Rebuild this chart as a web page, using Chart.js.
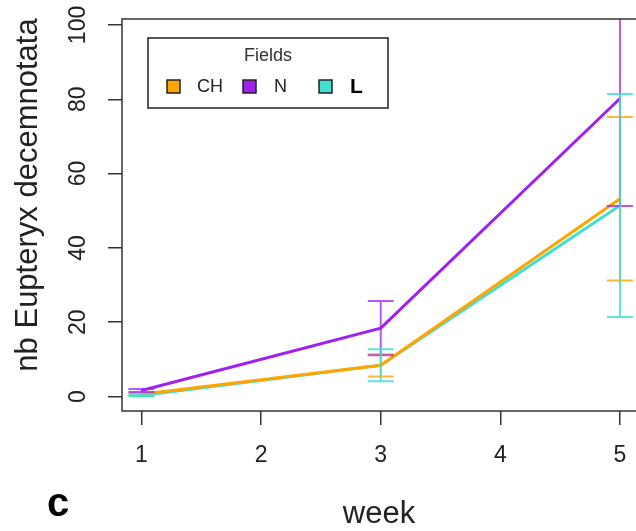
<!DOCTYPE html>
<html>
  <head>
    <meta charset="utf-8">
    <title>Eupteryx per week</title>
    <script src="https://cdn.jsdelivr.net/npm/chart.js@4.4.0/dist/chart.umd.min.js"></script>
    <style>
      html, body { margin: 0; padding: 0; background: #fff; overflow: hidden; }
      canvas { display: block; }
    </style>
  </head>
  <body>
    <canvas id="chart" width="636" height="531"></canvas>
    <script type="text/javascript">
      // values
      var weeks = [1, 3, 5];
      var fields = ["CH", "N", "L"];
      var chMean = [0.6, 8.4, 53.2];
      var chErr  = [0.3, 3.0, 22.0];
      var nMean  = [1.6, 18.4, 80.2];
      var nErr   = [0.4, 7.3, 28.9];
      var lMean  = [0.3, 8.4, 51.4];
      var lErr   = [0.3, 4.3, 30.0];
      var xTicks = [1, 2, 3, 4, 5];
      var yTicks = [0, 20, 40, 60, 80, 100];

      var lineCol = ['#FFA500', '#A020F0', '#40E0D0'];
      var barCol  = ['rgba(255,165,0,0.8)', 'rgba(160,32,240,0.75)', 'rgba(64,224,208,0.85)'];
      var means = [chMean, nMean, lMean];
      var errs  = [chErr, nErr, lErr];
      var FONT = "'Liberation Sans', Arial, sans-serif";

      function pts(arr) {
        return weeks.map(function (w, i) { return {x: w, y: arr[i]}; });
      }

      var extras = {
        id: 'extras',
        afterDatasetsDraw: function (chart) {
          var c = chart.ctx, xs = chart.scales.x, ys = chart.scales.y;
          // error bars, drawn in series order
          c.save();
          c.lineWidth = 2;
          for (var s = 0; s < 3; s++) {
            c.strokeStyle = barCol[s];
            for (var i = 0; i < weeks.length; i++) {
              var px = xs.getPixelForValue(weeks[i]);
              var top = ys.getPixelForValue(means[s][i] + errs[s][i]);
              var bot = ys.getPixelForValue(means[s][i] - errs[s][i]);
              c.beginPath();
              c.moveTo(px, Math.max(top, chart.chartArea.top)); c.lineTo(px, bot);
              if (top > chart.chartArea.top) { c.moveTo(px - 13, top); c.lineTo(px + 13, top); }
              c.moveTo(px - 13, bot); c.lineTo(px + 13, bot);
              c.stroke();
            }
          }
          c.restore();
        },
        afterDraw: function (chart) {
          var c = chart.ctx, a = chart.chartArea, xs = chart.scales.x, ys = chart.scales.y;
          c.save();
          // plot box (right side falls off the canvas)
          c.strokeStyle = '#333';
          c.lineWidth = 1.5;
          c.strokeRect(a.left, a.top, a.right - a.left + 10, a.bottom - a.top);

          // tick labels
          c.fillStyle = '#222';
          c.font = '23px ' + FONT;
          c.textAlign = 'center';
          c.textBaseline = 'middle';
          xTicks.forEach(function (v) {
            c.fillText(String(v), xs.getPixelForValue(v), 456);
          });
          yTicks.forEach(function (v) {
            c.save();
            c.translate(79, ys.getPixelForValue(v));
            c.rotate(-Math.PI / 2);
            c.fillText(String(v), 0, 0);
            c.restore();
          });

          // axis titles
          c.font = '31px ' + FONT;
          c.fillText('week', 379, 514);
          c.save();
          c.translate(28, 195);
          c.rotate(-Math.PI / 2);
          c.fillText('nb Eupteryx decemnotata', 0, 0);
          c.restore();

          // panel letter
          c.fillStyle = '#000';
          c.font = 'bold 40px ' + FONT;
          c.fillText('c', 58, 505);

          // legend
          c.fillStyle = '#fff';
          c.fillRect(148, 38, 240, 70);
          c.strokeStyle = '#222';
          c.lineWidth = 1.5;
          c.strokeRect(148, 38, 240, 70);
          c.fillStyle = '#333';
          c.font = '18px ' + FONT;
          c.fillText('Fields', 268, 56);
          var sqX = [167, 243, 319], txX = [197, 274, 350];
          c.textAlign = 'left';
          for (var s = 0; s < 3; s++) {
            c.fillStyle = lineCol[s];
            c.fillRect(sqX[s], 80, 13, 13);
            c.strokeStyle = '#222';
            c.lineWidth = 1.5;
            c.strokeRect(sqX[s], 80, 13, 13);
            if (s === 2) {
              c.fillStyle = '#000';
              c.font = 'bold 21px ' + FONT;
            } else {
              c.fillStyle = '#222';
              c.font = '18px ' + FONT;
            }
            c.fillText(fields[s], txX[s], 87);
          }
          c.restore();
        }
      };

      var ctx = document.getElementById('chart').getContext('2d');
      var chart = new Chart(ctx, {
          type: 'line',
          data: {
              datasets: [0, 1, 2].map(function (s) {
                return {
                  label: fields[s],
                  data: pts(means[s]),
                  borderColor: lineCol[s],
                  backgroundColor: lineCol[s],
                  borderWidth: 3,
                  pointRadius: 0,
                  tension: 0,
                  fill: false
                };
              })
          },
          options: {
              responsive: false,
              animation: false,
              layout: { padding: { left: 0, top: 19, right: 0, bottom: 0 } },
              plugins: { legend: { display: false }, tooltip: { enabled: false } },
              scales: {
                x: {
                  type: 'linear',
                  min: 0.837, max: 5.134,
                  afterBuildTicks: function (s) { s.ticks = xTicks.map(function (v) { return {value: v}; }); },
                  afterFit: function (s) { s.height = 120; },
                  ticks: { display: false },
                  border: { display: false },
                  grid: { drawOnChartArea: false, drawTicks: true, tickLength: 14, color: '#333', lineWidth: 1.5 }
                },
                y: {
                  min: -3.9, max: 101.6,
                  afterBuildTicks: function (s) { s.ticks = yTicks.map(function (v) { return {value: v}; }); },
                  afterFit: function (s) { s.width = 122; },
                  ticks: { display: false },
                  border: { display: false },
                  grid: { drawOnChartArea: false, drawTicks: true, tickLength: 14, color: '#333', lineWidth: 1.5 }
                }
              }
          },
          plugins: [extras]
      });
    </script>
  </body>
</html>
